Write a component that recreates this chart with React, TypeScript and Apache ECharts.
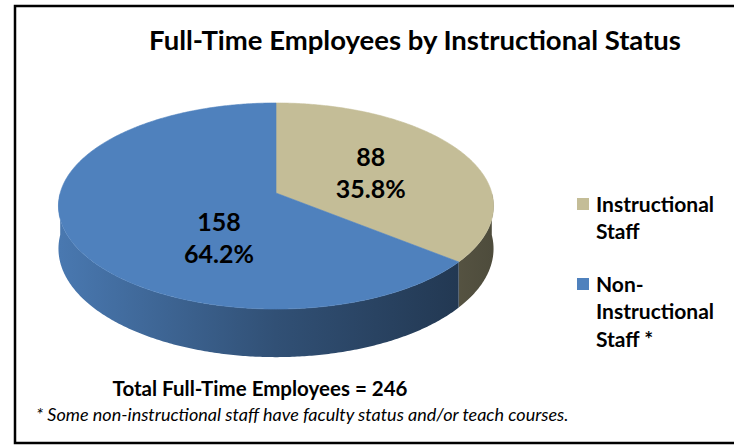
import React, { useEffect, useRef } from "react";
import * as echarts from "echarts";

const categories = ["Instructional Staff", "Non-Instructional Staff *"];
const legendLines = [["Instructional", "Staff"], ["Non-", "Instructional", "Staff *"]];
const values = [88, 158];
const titleText = "Full-Time Employees by Instructional Status";
const totalPrefix = "Total Full-Time Employees = ";
const footnote = "* Some non-instructional staff have faculty status and/or teach courses.";

const COLORS = ["#C4BD97", "#4F81BD"];
const FONT = "Lato, 'Open Sans', sans-serif";

// 3D pie geometry (style/layout)
const CX = 276, CY = 193, RX = 215.8, RY = 101.4, K = 0.1263, DEPTH = 42;
const LABEL_R = 0.5;
const LABEL_SHIFT = [[0, 0], [43, 21]];

function proj(theta: number, r = 1, down = 0): number[] {
  const u = Math.sin(theta) * r, v = Math.cos(theta) * r;
  const s = 1 / (1 + K * v);
  return [CX + RX * u * s, CY - RY * v * s + DEPTH * s * down];
}

function shade(hex: string, f: number): string {
  const n = parseInt(hex.slice(1), 16);
  const r = Math.round(((n >> 16) & 255) * f), g = Math.round(((n >> 8) & 255) * f), b = Math.round((n & 255) * f);
  return `rgb(${r},${g},${b})`;
}

function arcPts(a0: number, a1: number, down: number): number[][] {
  const pts: number[][] = [];
  const n = Math.max(2, Math.ceil(Math.abs(a1 - a0) / 0.01));
  for (let i = 0; i <= n; i++) pts.push(proj(a0 + ((a1 - a0) * i) / n, 1, down));
  return pts;
}

export default function App() {
  const ref = useRef<HTMLDivElement>(null);
  useEffect(() => {
    if (!ref.current) return;
    const chart = echarts.init(ref.current, null, { renderer: "svg" });
    const total = values.reduce((a, b) => a + b, 0);
    const starts: number[] = [];
    let acc = 0;
    values.forEach((v) => { starts.push(acc); acc += v; });
    const toAng = (x: number) => (x / total) * Math.PI * 2;

    const renderItem = (params: any, api: any) => {
      const i = params.dataIndex;
      const val = api.value(0);
      const a0 = toAng(starts[i]);
      const a1 = toAng(starts[i] + val);
      const color = COLORS[i];
      const children: any[] = [];
      // front side wall (visible between 90deg and 270deg)
      const s0 = Math.max(a0, Math.PI / 2), s1 = Math.min(a1, (Math.PI * 3) / 2);
      if (s1 > s0) {
        const top = arcPts(s0, s1, 0);
        const bot = arcPts(s1, s0, 1);
        const grad = new echarts.graphic.LinearGradient(CX - RX, 0, CX + RX, 0, [
          { offset: 0, color: shade(color, 0.93) },
          { offset: 0.5, color: shade(color, 0.62) },
          { offset: 1, color: shade(color, 0.4) },
        ], true);
        children.push({
          type: "polygon",
          shape: { points: top.concat(bot) },
          style: { fill: grad, stroke: null },
        });
      }
      // top face
      const pts = [[CX, CY]].concat(arcPts(a0, a1, 0));
      children.push({
        type: "polygon",
        shape: { points: pts },
        style: { fill: color, stroke: color, lineWidth: 0.6 },
      });
      // label
      const mid = (a0 + a1) / 2;
      const p = proj(mid, LABEL_R, 0);
      const pct = ((val / total) * 100).toFixed(1) + "%";
      children.push({
        type: "text",
        x: p[0] + LABEL_SHIFT[i][0],
        y: p[1] + LABEL_SHIFT[i][1],
        z2: 10,
        style: {
          text: `${val}\n${pct}`,
          fill: "#000",
          font: `bold 25px ${FONT}`,
          lineHeight: 32,
          align: "center",
          verticalAlign: "middle",
        },
      });
      return { type: "group", children };
    };

    const legendGraphics: any[] = [];
    const legendTop = [203, 283];
    categories.forEach((name, i) => {
      legendGraphics.push({
        type: "rect",
        shape: { x: 577, y: legendTop[i] - 5, width: 12, height: 12 },
        style: { fill: COLORS[i] },
      });
      legendLines[i].forEach((line, j) => {
        legendGraphics.push({
          type: "text",
          x: 596,
          y: legendTop[i] + j * 27.5,
          style: { text: line, font: `bold 21px ${FONT}`, fill: "#000", verticalAlign: "middle", align: "left" },
        });
      });
    });

    chart.setOption({
      animation: false,
      backgroundColor: "#fff",
      series: [
        {
          type: "custom",
          name: "Employees",
          coordinateSystem: "none",
          renderItem,
          data: values.map((v, i) => ({ name: categories[i], value: [v] })),
          silent: true,
        },
      ],
      graphic: [
        {
          type: "rect",
          shape: { x: 15, y: 6, width: 740, height: 437 },
          style: { fill: "none", stroke: "#000", lineWidth: 2.5 },
        },
        {
          type: "text",
          x: 415,
          y: 39,
          style: { text: titleText, font: `bold 27.5px ${FONT}`, fill: "#000", align: "center", verticalAlign: "middle" },
        },
        {
          type: "text",
          x: 260,
          y: 388,
          style: { text: totalPrefix + total, font: `bold 20.5px ${FONT}`, fill: "#000", align: "center", verticalAlign: "middle" },
        },
        {
          type: "text",
          x: 36,
          y: 414,
          style: { text: footnote, font: `italic 18px ${FONT}`, fill: "#000", align: "left", verticalAlign: "middle" },
        },
        ...legendGraphics,
      ],
    });
    return () => chart.dispose();
  }, []);
  return <div ref={ref} style={{ position: "fixed", left: 0, top: 0, width: 734, height: 446 }} />;
}
